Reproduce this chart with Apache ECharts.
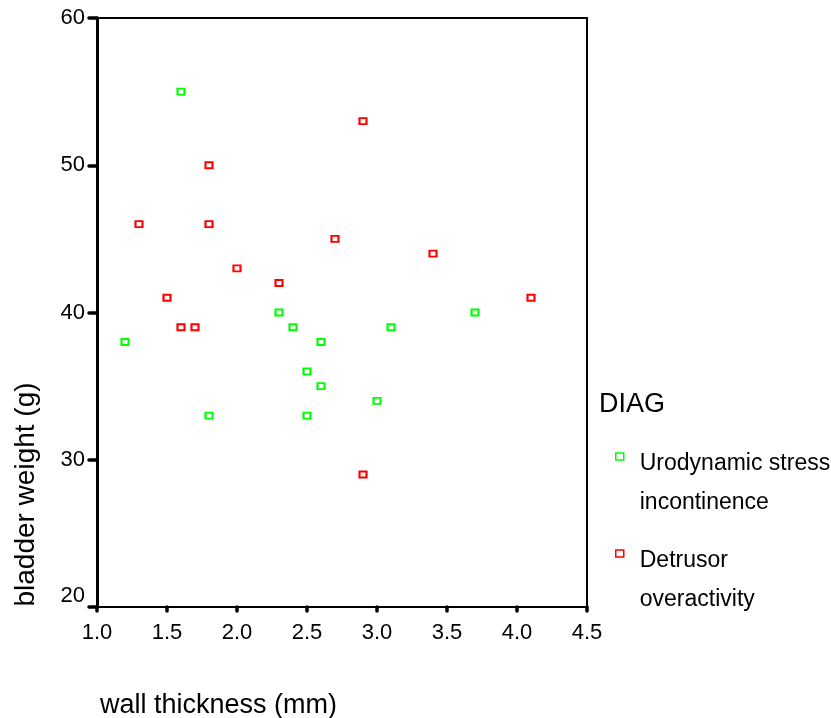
<!DOCTYPE html>
<html>
<head>
<meta charset="utf-8">
<script src="https://cdn.jsdelivr.net/npm/echarts@6/dist/echarts.min.js"></script>
<style>html,body{margin:0;padding:0;background:#fff}#c{width:831px;height:718px}</style>
</head>
<body>
<div id="c"></div>
<script>
// Data
const usiX = [1.6, 1.2, 1.8, 2.3, 2.4, 2.6, 2.5, 2.6, 2.5, 3.0, 3.1, 3.7];
const usiY = [55, 38, 33, 40, 39, 38, 36, 35, 33, 34, 39, 40];
const doX = [2.9, 1.8, 1.8, 1.3, 2.0, 2.7, 3.4, 2.3, 1.5, 1.6, 1.7, 4.1, 2.9];
const doY = [53, 50, 46, 46, 43, 45, 44, 42, 41, 39, 39, 41, 29];
const seriesNames = ['Urodynamic stress incontinence', 'Detrusor overactivity'];
const legendLines = [['Urodynamic stress', 'incontinence'], ['Detrusor', 'overactivity']];
const legendTitle = 'DIAG';
const xTitle = 'wall thickness (mm)';
const yTitle = 'bladder weight (g)';

const FONT = '"Liberation Sans", Arial, sans-serif';
const colors = ['#00ff00', '#ff0000'];

function pairs(xs, ys) { return xs.map((x, i) => [x, ys[i]]); }

function makeLegend(i, iconCenterY) {
  return {
    data: [{ name: seriesNames[i], itemStyle: { color: '#fff', borderColor: colors[i], borderWidth: 1.5 } }],
    orient: 'vertical',
    left: 615,
    top: iconCenterY - 50,
    padding: 0,
    itemWidth: 8,
    itemHeight: 7,
    icon: 'rect',
    selectedMode: false,
    formatter: () => '{t| }\n' + legendLines[i].map(s => '{a|' + s + '}').join('\n'),
    textStyle: {
      fontFamily: FONT, fontSize: 23, color: '#000',
      rich: {
        t: { fontFamily: FONT, fontSize: 23, lineHeight: 53, color: '#000', padding: [0, 0, 0, 11] },
        a: { fontFamily: FONT, fontSize: 23, lineHeight: 39, color: '#000', padding: [0, 0, 0, 11] }
      }
    }
  };
}

const chart = echarts.init(document.getElementById('c'), null, { renderer: 'canvas' });
chart.setOption({
  animation: false,
  backgroundColor: '#fff',
  textStyle: { fontFamily: FONT },
  title: {
    text: legendTitle, left: 599, top: 391, padding: 0,
    textStyle: { fontFamily: FONT, fontSize: 27, fontWeight: 'normal', color: '#000' }
  },
  legend: [makeLegend(0, 456), makeLegend(1, 553)],
  grid: { left: 97, right: 244, top: 18, bottom: 111, show: true, borderColor: '#000', borderWidth: 2, containLabel: false, outerBoundsMode: 'none' },
  xAxis: {
    type: 'value', min: 1, max: 4.5, interval: 0.5,
    name: xTitle, nameLocation: 'middle', nameGap: 85,
    nameTextStyle: { fontFamily: FONT, fontSize: 27, color: '#000', padding: [0, 247, 0, 0] },
    axisLine: { show: true, onZero: false, lineStyle: { color: '#000', width: 2 } },
    axisTick: { show: true, length: 4, lineStyle: { color: '#000', width: 3.5, cap: 'round' } },
    axisLabel: { fontFamily: FONT, fontSize: 22, color: '#000', margin: 15, formatter: v => v.toFixed(1) },
    splitLine: { show: false }
  },
  yAxis: {
    type: 'value', min: 20, max: 60, interval: 10,
    name: yTitle, nameLocation: 'middle', nameGap: 57,
    nameTextStyle: { fontFamily: FONT, fontSize: 28, color: '#000', padding: [0, 364, 0, 0] },
    axisLine: { show: true, onZero: false, lineStyle: { color: '#000', width: 3 } },
    axisTick: { show: true, length: 8, lineStyle: { color: '#000', width: 3.5, cap: 'round' } },
    axisLabel: {
      fontFamily: FONT, fontSize: 22, color: '#000', margin: 12,
      formatter: v => v === 20 ? '{lo|20}' : String(v),
      rich: { lo: { fontFamily: FONT, fontSize: 22, color: '#000', padding: [0, 0, 22, 0] } }
    },
    splitLine: { show: false }
  },
  series: [
    {
      name: seriesNames[0], type: 'scatter', data: pairs(usiX, usiY),
      symbol: 'rect', symbolSize: [7, 6],
      itemStyle: { color: '#fff', borderColor: colors[0], borderWidth: 2, opacity: 1 }
    },
    {
      name: seriesNames[1], type: 'scatter', data: pairs(doX, doY),
      symbol: 'rect', symbolSize: [7, 6],
      itemStyle: { color: '#fff', borderColor: colors[1], borderWidth: 2, opacity: 1 }
    }
  ]
});
</script>
</body>
</html>
